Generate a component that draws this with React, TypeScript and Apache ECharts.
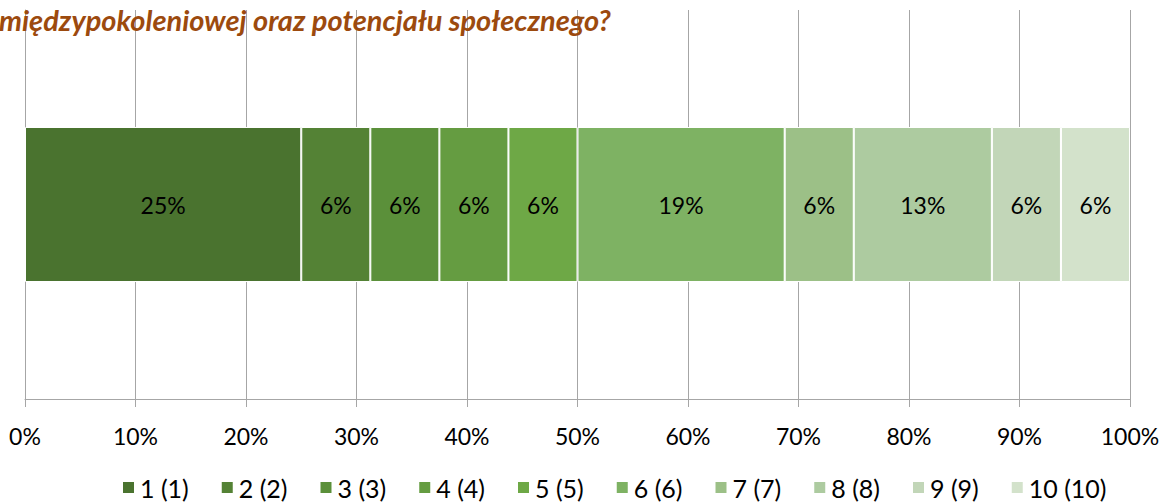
import React, { useEffect, useRef } from "react";
import * as echarts from "echarts";

const titleText = "międzypokoleniowej oraz potencjału społecznego?";
const seriesNames = ["1 (1)", "2 (2)", "3 (3)", "4 (4)", "5 (5)", "6 (6)", "7 (7)", "8 (8)", "9 (9)", "10 (10)"];
const seriesValues = [25, 6.25, 6.25, 6.25, 6.25, 18.75, 6.25, 12.5, 6.25, 6.25];
const seriesColors = ["#4A732F", "#548235", "#5B903A", "#659C41", "#6EA846", "#7EB263", "#9CC087", "#ADCBA0", "#C2D6B8", "#D3E2CB"];
const categories = [""];
const xTicks = [0, 10, 20, 30, 40, 50, 60, 70, 80, 90, 100];

const FONT = "Lato, 'Open Sans', sans-serif";

export default function App() {
  const ref = useRef<HTMLDivElement>(null);
  useEffect(() => {
    if (!ref.current) return;
    const chart = echarts.init(ref.current, null, { renderer: "svg" });
    chart.setOption({
      animation: false,
      textStyle: { fontFamily: FONT },
      title: {
        text: titleText,
        left: -6,
        top: 0,
        textStyle: { color: "#9C4A0E", fontSize: 29, fontWeight: "bold", fontStyle: "italic", fontFamily: FONT },
      },
      legend: {
        bottom: -3,
        left: 116,
        itemWidth: 13,
        itemHeight: 13,
        itemGap: 31,
        icon: "rect",
        textStyle: { fontSize: 25, color: "#000", fontFamily: FONT },
        data: seriesNames,
      },
      grid: { left: 25, right: 35, top: 10, bottom: 103 },
      xAxis: {
        type: "value",
        min: xTicks[0],
        max: xTicks[xTicks.length - 1],
        interval: 10,
        axisLine: { show: true, lineStyle: { color: "#A6A6A6", width: 1 } },
        axisTick: { show: true, length: 8, lineStyle: { color: "#A6A6A6" } },
        axisLabel: { formatter: "{value}%", fontSize: 23, color: "#000", margin: 25, fontFamily: FONT },
        splitLine: { show: true, lineStyle: { color: "#A6A6A6", width: 1 } },
      },
      yAxis: {
        type: "category",
        data: categories,
        axisLine: { show: true, lineStyle: { color: "#A6A6A6" } },
        axisTick: { show: false },
        axisLabel: { show: false },
      },
      series: seriesNames.map((name, i) => ({
        name,
        type: "bar",
        stack: "total",
        barWidth: 155,
        data: [seriesValues[i]],
        itemStyle: { color: seriesColors[i], borderColor: "#FFFFFF", borderWidth: 1 },
        label: {
          show: true,
          position: "inside",
          fontSize: 23,
          color: "#000",
          fontFamily: FONT,
          formatter: (p: any) => Math.round(p.value) + "%",
        },
      })),
    });
    return () => chart.dispose();
  }, []);
  return <div ref={ref} style={{ width: 1165, height: 502, position: "absolute", left: 0, top: 0 }} />;
}
